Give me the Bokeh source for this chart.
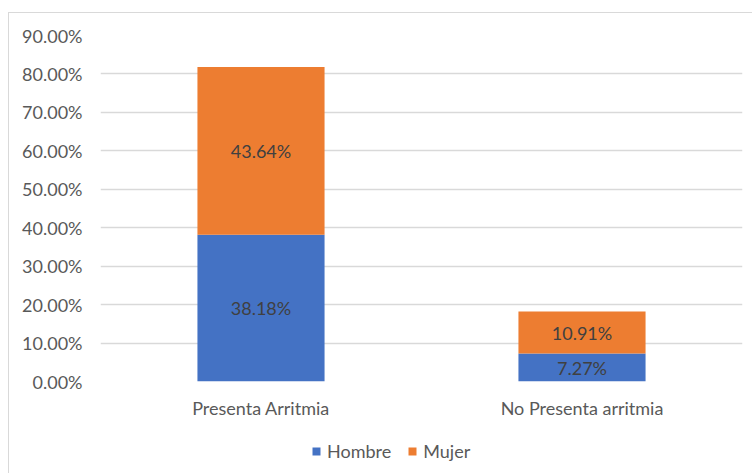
from bokeh.plotting import figure
from bokeh.layouts import column
from bokeh.models import (ColumnDataSource, FactorRange, Range1d, FixedTicker,
                          NumeralTickFormatter, LabelSet, Legend, LegendItem)
from bokeh.core.properties import value
from bokeh.embed import file_html
from bokeh.resources import INLINE

categories = ["Presenta Arritmia", "No Presenta arritmia"]
hombre = [0.3818, 0.0727]
mujer = [0.4364, 0.1091]
series_names = ["Hombre", "Mujer"]
colors = ["#4472C4", "#ED7D31"]
y_ticks = [0.0, 0.1, 0.2, 0.3, 0.4, 0.5, 0.6, 0.7, 0.8, 0.9]

FONT = "Lato"
FS = "18px"
TEXT = "#595959"

src = ColumnDataSource(dict(cat=categories, Hombre=hombre, Mujer=mujer))

p = figure(x_range=FactorRange(*categories), y_range=Range1d(0, 0.9),
           width=743, height=417, output_backend="svg", toolbar_location=None,
           min_border_left=91, min_border_right=10, min_border_top=22, min_border_bottom=49)
p.outline_line_color = None
p.background_fill_color = "white"
p.border_fill_color = "white"

p.vbar_stack(series_names, x="cat", width=0.396, color=colors, source=src, line_color=None)

lab_x, lab_y, lab_t = [], [], []
for c, h, m in zip(categories, hombre, mujer):
    lab_x += [c, c]
    lab_y += [h / 2, h + m / 2]
    lab_t += ["%.2f%%" % (h * 100), "%.2f%%" % (m * 100)]
lsrc = ColumnDataSource(dict(x=lab_x, y=lab_y, t=lab_t))
p.add_layout(LabelSet(x="x", y="y", text="t", source=lsrc, text_align="center",
                      text_baseline="middle", text_font=value(FONT), text_font_size=FS,
                      text_color="#404040"))

p.yaxis.ticker = FixedTicker(ticks=y_ticks)
p.yaxis.formatter = NumeralTickFormatter(format="0.00%")
p.yaxis.axis_line_color = None
p.yaxis.major_tick_line_color = None
p.yaxis.minor_tick_line_color = None
p.yaxis.major_tick_out = 0
p.yaxis.major_label_standoff = 18
p.yaxis.major_label_text_font = FONT
p.yaxis.major_label_text_font_size = FS
p.yaxis.major_label_text_color = TEXT

p.xaxis.axis_line_color = None
p.xaxis.major_tick_line_color = None
p.xaxis.minor_tick_line_color = None
p.xaxis.major_tick_out = 0
p.xaxis.major_label_standoff = 15
p.xaxis.major_label_text_font = FONT
p.xaxis.major_label_text_font_size = FS
p.xaxis.major_label_text_color = TEXT

p.xgrid.grid_line_color = None
p.ygrid.grid_line_color = "#d9d9d9"
p.ygrid.grid_line_width = 1.3
p.ygrid.ticker = FixedTicker(ticks=y_ticks)

# legend strip below the chart (its bars lie outside the strip's visible y range)
pl = figure(x_range=FactorRange(*categories), y_range=Range1d(1, 2), width=743, height=43,
            output_backend="svg", toolbar_location=None,
            min_border_left=0, min_border_right=0, min_border_top=0, min_border_bottom=0)
pl.axis.visible = False
pl.grid.visible = False
pl.outline_line_color = None
pl.border_fill_color = "white"
leg_renderers = pl.vbar_stack(series_names, x="cat", width=0.396, color=colors,
                              source=src, line_color=None)
legend = Legend(items=[LegendItem(label=n, renderers=[r]) for n, r in zip(series_names, leg_renderers)],
                orientation="horizontal", location=(211, 11),
                label_text_font=FONT, label_text_font_size=FS, label_text_color=TEXT,
                glyph_width=10, glyph_height=10, label_standoff=6, spacing=16,
                padding=0, margin=0, border_line_color=None, background_fill_alpha=0)
pl.add_layout(legend, "center")

layout = column(p, pl, spacing=0)
layout.margin = (13, 0, 0, 9)
layout.styles = {"outline": "1px solid #d9d9d9"}

open("out.html", "w").write(file_html(layout, INLINE))
